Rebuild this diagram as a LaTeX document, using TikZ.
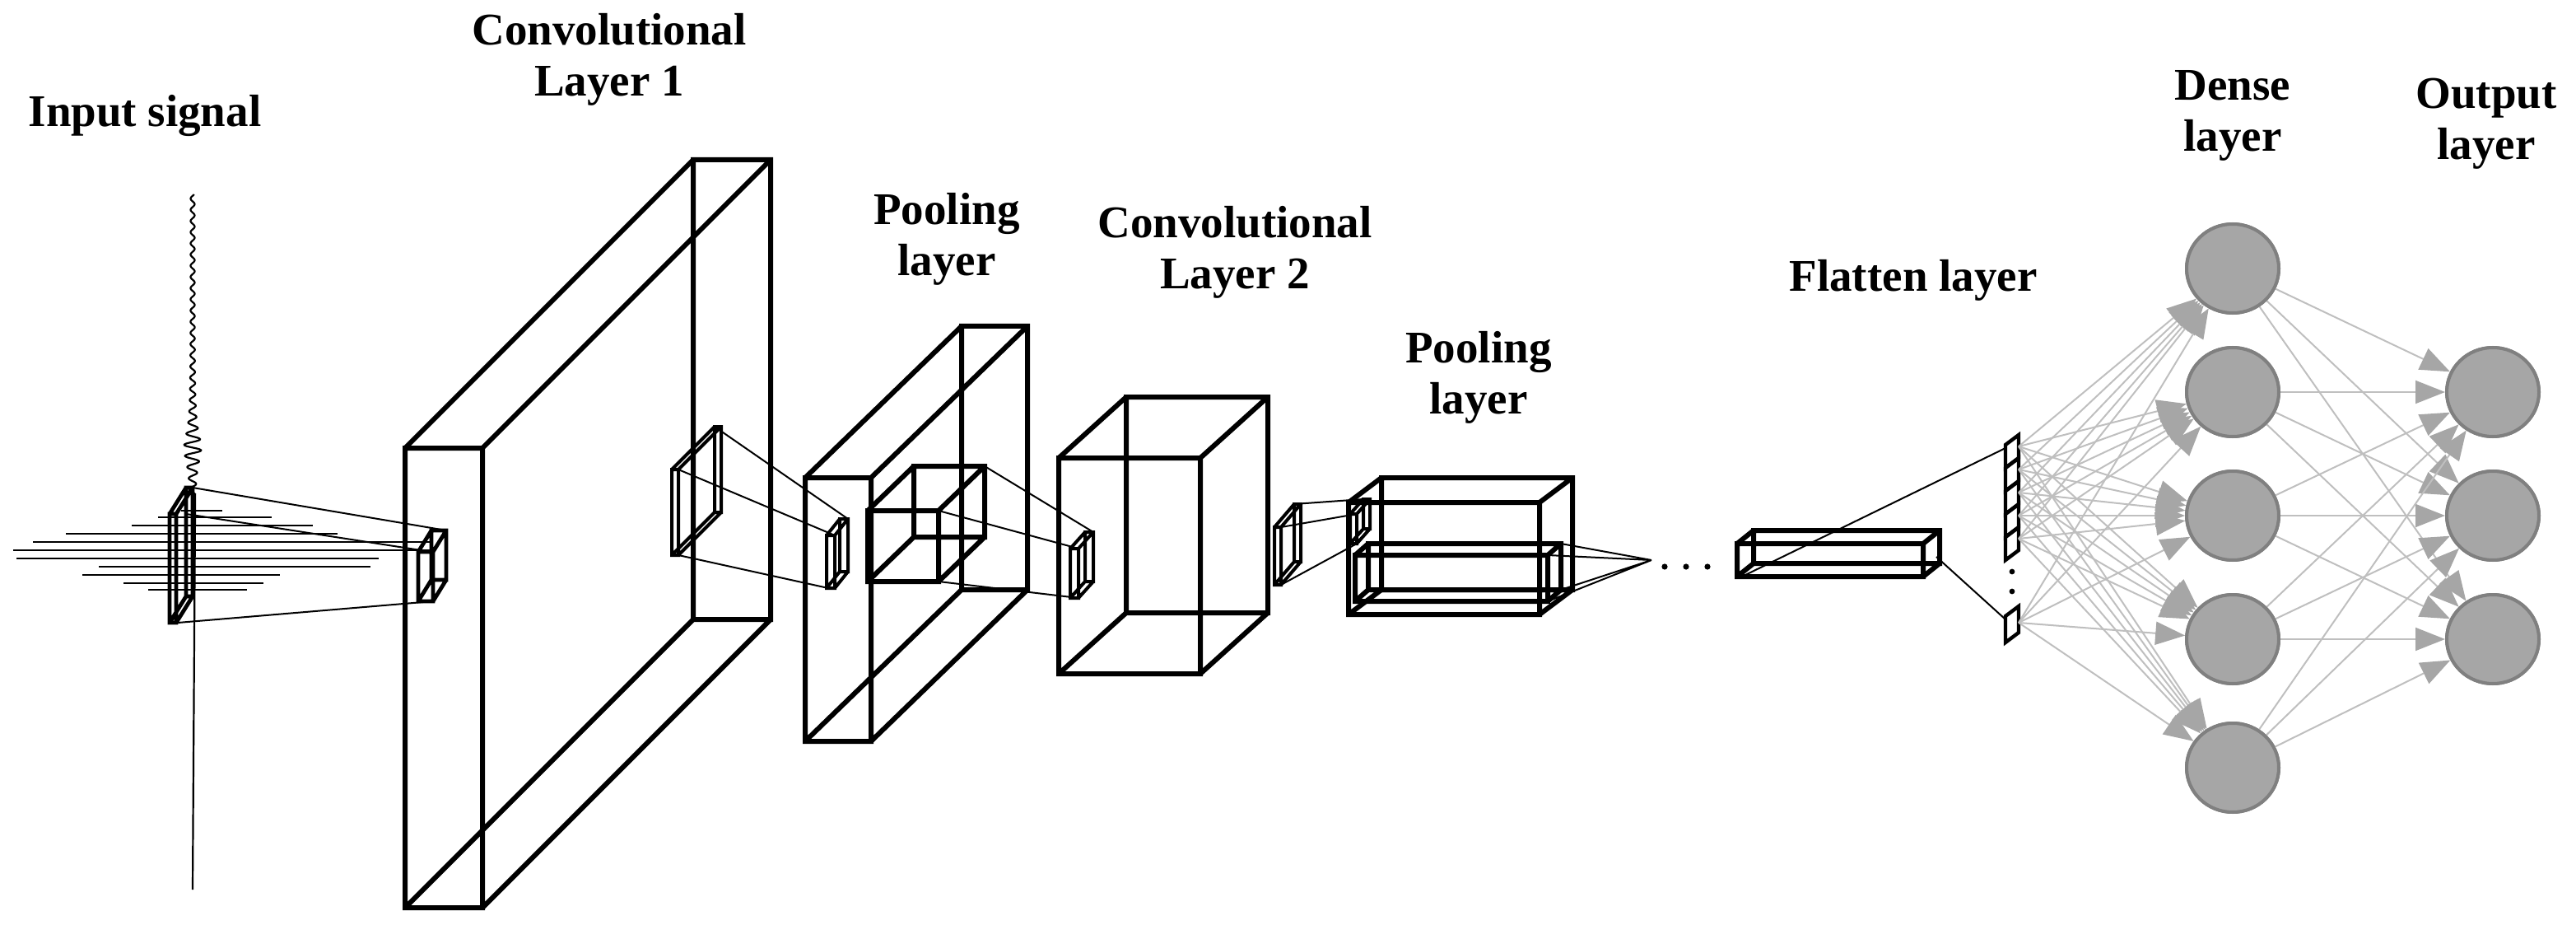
\documentclass[tikz,border=0pt]{standalone}
\usepackage{fontspec}
\setmainfont{Liberation Serif}
\usetikzlibrary{arrows.meta,shapes.geometric}
\newcommand\cub[7][line width=3pt]{%
 \draw[#1,line join=miter] (#2,#3) rectangle (#4,#5)
   (#2+#6,#3-#7) rectangle (#4+#6,#5-#7)
   (#2,#3)--(#2+#6,#3-#7) (#4,#3)--(#4+#6,#3-#7)
   (#2,#5)--(#2+#6,#5-#7) (#4,#5)--(#4+#6,#5-#7);}
\begin{document}
\begin{tikzpicture}[x=1pt,y=-1pt,
 lab/.style={font=\fontsize{27.5}{31}\selectfont\bfseries,align=center},
 thin/.style={line width=1pt},
 nn/.style={ellipse,fill=black!35,draw=black!50,line width=2pt,minimum width=56pt,minimum height=54pt,inner sep=0pt},
 ar/.style={draw=black!25,line width=1pt,-{Triangle[length=18pt,width=14pt,color=black!35]}}]
\useasboundingbox (0,0) rectangle (1564.5,561.5);
% labels
\node[lab] (l0) at (88,70) {Input signal};
\node[lab] (l1) at (370,36) {Convolutional\\Layer 1};
\node[lab] (l2) at (575,145) {Pooling\\layer};
\node[lab] (l3) at (750,153) {Convolutional\\Layer 2};
\node[lab] (l4) at (898,229) {Pooling\\layer};
\node[lab] (l5) at (1162,170) {Flatten layer};
\node[lab] (l6) at (1356,70) {Dense\\layer};
\node[lab] (l7) at (1510,75) {Output\\layer};
% signal
\draw[line width=1.1pt] plot[domain=118:300,samples=600]
  ({117+(1.2+4/(1+((\x-272)/12)^2))*sin(\x*53)},\x) -- (117,540);
\foreach \y/\a/\b in {310/110/135,314/96/165,319/80/190,324/40/205,329/20/262,334/8/262,339/10/230,344/60/225,349/50/170,354/75/160,358/90/150}
  \draw[line width=1.3pt] (\a,\y)--(\b,\y);
% input kernel
\cub[line width=2.4pt]{103}{312}{107}{378}{10}{16}
\cub[line width=2.4pt]{254}{335}{263}{365}{8}{13}
\draw[thin] (117,296)--(271,322) (108,378)--(263,365) (113,312)--(262,335);
% conv1
\cub{246}{272}{293}{551}{175}{175}
\cub[line width=2pt]{408}{285}{412}{337}{26}{26}
\cub[line width=2pt]{502}{325}{507}{357}{8}{10}
\draw[thin] (434,259)--(515,315) (412,337)--(503,357) (412,285)--(507,325);
% pool1
\cub{489}{290}{529}{450}{95}{92}
\cub{527}{310}{570}{353}{28}{27}
\cub[line width=2pt]{650}{333}{655}{363}{9}{10}
\draw[thin] (598,283)--(664,323) (570,353)--(655,363) (570,310)--(655,333);
% conv2
\cub{643}{278}{729}{409}{41}{37}
\cub[line width=2pt]{774}{320}{778}{355}{12}{14}
\cub[line width=2pt]{820}{312}{824}{330}{8}{9}
\draw[thin] (786,306)--(828,303) (778,355)--(824,330) (778,320)--(824,312);
% pool2
\cub{819}{305}{935}{373}{20}{15}
\cub{823}{337}{940}{365}{8}{7}
\coordinate (cv) at (1003,340);
\draw[thin] (948,330)--(cv) (948,358)--(cv) (940,365)--(cv) (940,337)--(cv);
\foreach \x in {1011,1024,1037} \fill (\x,344) circle (1.8pt);
% flatten
\cub{1055}{330}{1168}{350}{10}{8}
% column
\foreach \i in {0,...,4} {\draw[line width=2.2pt] (1218,{270+14*\i})--(1226,{264+14*\i})--(1226,{278+14*\i})--(1218,{284+14*\i})--cycle;
  \coordinate (c\i) at (1226,{271+14*\i});}
\draw[line width=2.2pt] (1218,374)--(1226,368)--(1226,384)--(1218,390)--cycle;
\coordinate (c5) at (1226,378);
\fill (1222,347) circle (1.7pt) (1222,359) circle (1.7pt);
\draw[thin] (1058,350)--(1218,272) (1176,338)--(1218,376);
% neurons
\foreach \i/\y in {1/163,2/238,3/313,4/388,5/466} \node[nn] (d\i) at (1356,\y) {};
\foreach \i/\y in {1/238,2/313,3/388} \node[nn] (o\i) at (1514,\y) {};
\foreach \c in {0,...,5} \foreach \d in {1,...,5} \draw[ar] (c\c)--(d\d);
\foreach \d in {1,...,5} \foreach \o in {1,2,3} \draw[ar] (d\d)--(o\o);
\foreach \i in {1,...,5} \node[nn] at (d\i) {};
\foreach \i in {1,2,3} \node[nn] at (o\i) {};
\end{tikzpicture}
\end{document}
